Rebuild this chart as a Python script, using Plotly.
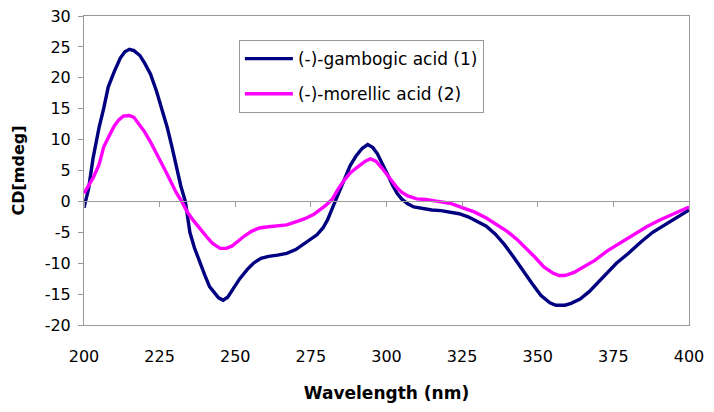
import plotly.graph_objects as go

wl_gambogic = [200, 201.5, 203, 205, 206.5, 208, 210, 212, 213.5, 215, 216.5, 218.5, 220, 222, 224, 225.5,
               227.5, 229, 230.5, 232, 233.5, 235, 236.5, 238.5, 240, 241.5, 243, 244.5, 246, 247.5, 249.5,
               251.5, 254, 256, 258.5, 261, 264, 267, 270, 272.5, 275, 277, 279, 280.5, 282, 283, 284.5,
               286, 288, 290, 292, 293.8, 295.5, 297, 299, 300.5, 302, 303.5, 305, 307, 309, 312, 315, 318,
               321, 324, 327, 330, 333, 336, 339, 342, 345, 348, 351, 354, 356, 359, 361, 364, 367, 370,
               373, 376, 380, 384, 388, 392, 396, 400]
cd_gambogic = [-1.0, 2, 7, 12, 15, 18.5, 21, 23.2, 24.2, 24.6, 24.4, 23.6, 22.4, 20.6, 17.8, 15.5,
               12, 9, 5.5, 2.5, 0, -5, -7.5, -10.2, -12, -13.8, -14.8, -15.6, -16, -15.5, -14,
               -12.5, -11, -10, -9.2, -8.9, -8.7, -8.4, -7.8, -7, -6.2, -5.4, -4.3, -3, -1.2, 0, 1.8,
               3.6, 5.8, 7.4, 8.6, 9.2, 8.7, 7.7, 5.8, 4.2, 2.6, 1.3, 0.4, -0.4, -0.9, -1.2, -1.4, -1.5,
               -1.7, -2.0, -2.5, -3.2, -4.0, -5.3, -7.0, -9.0, -11.2, -13.2, -15.2, -16.4, -16.8, -16.8,
               -16.5, -15.8, -14.6, -13, -11.5, -10, -8.4, -6.6, -5.0, -3.8, -2.6, -1.4]

wl_morellic = [200, 201.5, 203, 205, 206.5, 208, 210, 211.5, 213, 215, 216.5, 218, 220, 222, 224, 226,
               227.5, 229, 230.5, 232.3, 234, 236, 238, 240.5, 242.5, 245, 247, 249, 251, 253, 255.5,
               258, 261, 264, 267, 270, 273, 276, 278, 280, 282, 284, 286, 288, 290.5, 293, 294.7,
               296.5, 298.5, 300.5, 302, 303.5, 305, 307, 310, 313, 317, 321, 325, 329, 333, 337, 340,
               343, 346, 349, 352, 355, 357, 359, 362, 365, 369, 373, 378, 382, 386, 390, 394, 397, 400]
cd_morellic = [1.3, 2.5, 3.8, 6, 8.8, 10.3, 12.2, 13.2, 13.8, 13.9, 13.6, 12.6, 11.3, 9.6, 7.8, 5.8,
               4.4, 2.9, 1.4, 0, -1.6, -3, -4.3, -5.7, -6.8, -7.6, -7.6, -7.2, -6.4, -5.6, -4.8,
               -4.3, -4.1, -4.0, -3.8, -3.3, -2.8, -2.1, -1.4, -0.6, 0.3, 2.0, 3.4, 4.6, 5.6, 6.5, 6.9,
               6.5, 5.4, 4.1, 3.0, 2.2, 1.5, 0.9, 0.4, 0.3, 0.0, -0.3, -1.0, -1.7, -2.7, -3.9, -4.9,
               -6.1, -7.5, -9.0, -10.6, -11.6, -12.0, -12.0, -11.5, -10.6, -9.5, -8.0, -6.5, -5.3, -4.1,
               -3.1, -2.2, -1.5, -0.9]

names = ["(-)-gambogic acid (1)", "(-)-morellic acid (2)"]
x_ticks = [200, 225, 250, 275, 300, 325, 350, 375, 400]
y_ticks = [-20, -15, -10, -5, 0, 5, 10, 15, 20, 25, 30]

FONT = "DejaVu Sans, Liberation Sans, Arial, sans-serif"
GRAY = "#9a9a9a"

fig = go.Figure()
fig.add_trace(go.Scatter(x=wl_gambogic, y=cd_gambogic, mode="lines", name=names[0],
                         legendgroup="a", line=dict(color="#000080", width=3.4)))
fig.add_trace(go.Scatter(x=wl_morellic, y=cd_morellic, mode="lines", name=names[1],
                         legendgroup="b", line=dict(color="#FF00FF", width=3.4)))

fig.update_layout(
    width=714, height=412,
    margin=dict(l=84, r=25, t=16, b=87),
    paper_bgcolor="white", plot_bgcolor="white",
    font=dict(family=FONT, size=16, color="black"),
    xaxis=dict(range=[200, 400], tickvals=x_ticks, ticktext=[str(v) for v in x_ticks],
               showgrid=False, zeroline=False, showline=True, linecolor=GRAY, linewidth=1,
               mirror=True, ticks="", ticklabelstandoff=17, automargin=False,
               title=dict(text="<b>Wavelength (nm)</b>", font=dict(size=17), standoff=21)),
    xaxis2=dict(range=[200, 400], overlaying="x", anchor="free", position=0.4,
                tickvals=x_ticks, showticklabels=False, showgrid=False, zeroline=False,
                showline=True, linecolor=GRAY, linewidth=1, ticks="outside", ticklen=5,
                tickcolor=GRAY, side="bottom", automargin=False),
    yaxis=dict(range=[-20, 30], tickvals=y_ticks, ticktext=[str(v) for v in y_ticks],
               showgrid=False, zeroline=False, showline=True, linecolor=GRAY, linewidth=1,
               mirror=True, ticks="outside", ticklen=5, tickcolor=GRAY, ticklabelstandoff=4,
               automargin=False,
               title=dict(text="<b>CD[mdeg]</b>", font=dict(size=16), standoff=16)),
    showlegend=True,
    legend=dict(x=0.256, y=0.922, xanchor="left", yanchor="top",
                bordercolor=GRAY, borderwidth=1, bgcolor="white",
                font=dict(size=17, family=FONT), tracegroupgap=10, itemwidth=48),
)
fig.add_trace(go.Scatter(x=[None], y=[None], xaxis="x2", showlegend=False, hoverinfo="skip"))

fig.write_html("out.html", config={"displayModeBar": False},
               post_script="document.body.style.margin='0px';")
